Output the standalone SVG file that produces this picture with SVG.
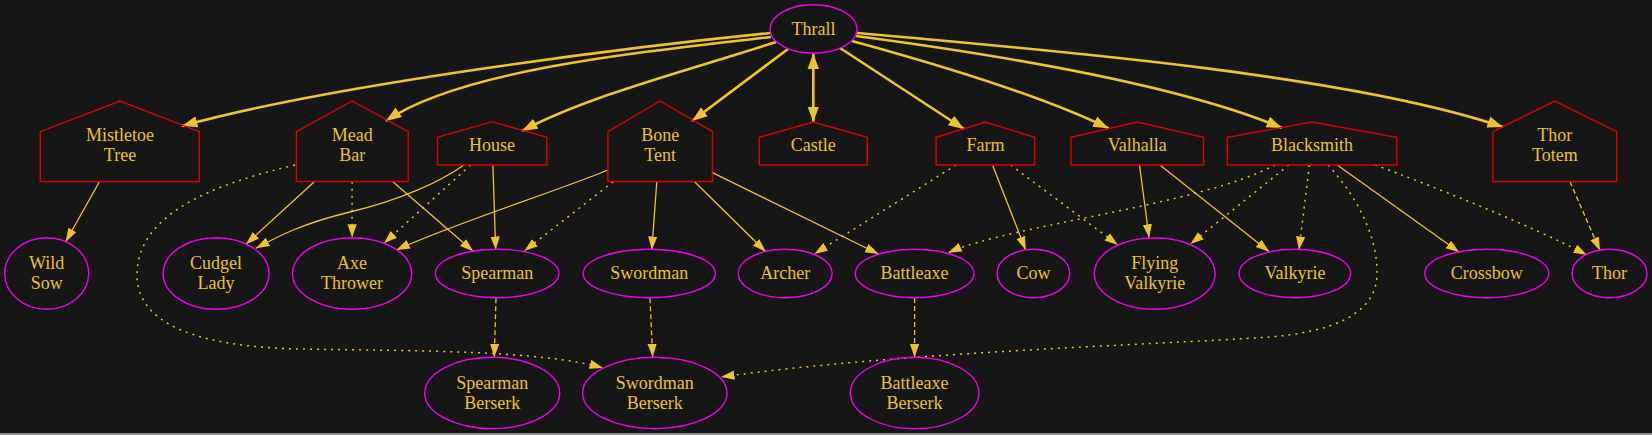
<svg xmlns="http://www.w3.org/2000/svg" width="1652" height="435" viewBox="0 0 1652 435" font-family="Liberation Serif, Times New Roman, Times, DejaVu Serif, serif">
<defs>
<style>
.bg{fill:#161616}
.house{fill:none;stroke:#dc0000;stroke-width:1.4}
.ell{fill:none;stroke:#f000f0;stroke-width:1.4}
.t{font-size:18px;fill:#ecc22c;text-anchor:middle}
.e{fill:none;stroke:#efc32b;stroke-width:1.3;marker-end:url(#a)}
.b{fill:none;stroke:#efc32b;stroke-width:2.6;marker-end:url(#ab)}
.dot{stroke-dasharray:2,5;stroke-width:1.5}
.dash{stroke-dasharray:5,3}
</style>
<marker id="a" markerUnits="userSpaceOnUse" markerWidth="15" markerHeight="11" refX="13.5" refY="5" orient="auto"><path d="M0,0.4 L13.5,5 L0,9.6 z" fill="#efc32b"/></marker>
<marker id="ab" markerUnits="userSpaceOnUse" markerWidth="17" markerHeight="13" refX="15.5" refY="6" orient="auto-start-reverse"><path d="M0,0.3 L15.5,6 L0,11.7 z" fill="#efc32b"/></marker>
</defs>
<rect class="bg" x="0" y="0" width="1652" height="433"/>
<rect x="0" y="433" width="1652" height="2" fill="#8f8f8f"/>
<g id="edges">
<path class="b" d="M770,33 C620,48 330,85 182,126"/>
<path class="b" d="M771,37 C640,52 460,70 386,121"/>
<path class="b" d="M776,42 C690,70 590,95 522,131"/>
<path class="b" d="M788,49 L692,121"/>
<path class="b" d="M813.3,53.5 L813.3,122" marker-start="url(#ab)"/>
<path class="b" d="M840,48 L964,129"/>
<path class="b" d="M852,41 C940,65 1040,95 1108.6,128.3"/>
<path class="b" d="M856,36 C1000,55 1180,85 1282,128"/>
<path class="b" d="M857,33 C1050,50 1350,75 1503,127"/>
<path class="e" d="M99.3,182 L65.7,241.7"/>
<path class="e" d="M314.3,181.7 L246,244.3"/>
<path class="e dot" d="M352.1,181.7 L352.1,237.7"/>
<path class="e" d="M392.9,181.7 L473.2,251.3"/>
<path class="e dot" d="M295,165 C210,185 137,215 137,275 C137,325 200,347 300,349 C420,351 540,350 603,368"/>
<path class="e" d="M464,165 C440,182 400,200 350,212 S275,238 256,248.3"/>
<path class="e dot" d="M470.7,165 L383.9,243.3"/>
<path class="e" d="M492.9,165 L495.7,250"/>
<path class="e" d="M608,170 C560,190 450,225 396.4,250"/>
<path class="e dot" d="M613.2,181.7 L524.3,251"/>
<path class="e" d="M656.8,181.7 L651.8,250"/>
<path class="e" d="M694.6,181.7 L765.7,251.7"/>
<path class="e" d="M712.5,172.7 L878.6,254"/>
<path class="e dot" d="M956.1,165 L814.3,254"/>
<path class="e" d="M992.5,165 L1025.7,250"/>
<path class="e dot" d="M1010.7,165 L1118,245"/>
<path class="e" d="M1139.5,165 L1149.1,237.7"/>
<path class="e" d="M1159.9,165 L1269.2,251.7"/>
<path class="e dot" d="M1275,165 C1200,205 1010,225 948.2,252.7"/>
<path class="e dot" d="M1288.9,165 L1190.4,244"/>
<path class="e dot" d="M1309.4,165 L1299,250"/>
<path class="e dot" d="M1328,165 C1360,200 1378,240 1377,275 C1376,315 1330,332 1270,337 C1150,345 900,352 721,377"/>
<path class="e" d="M1337.3,165 L1459.3,252.3"/>
<path class="e dot" d="M1375,165 C1430,185 1530,225 1587,255"/>
<path class="e dash" d="M1570,181.7 L1600,250.7"/>
<path class="e dash" d="M496,298.3 L494.3,357.3"/>
<path class="e dash" d="M650,298.3 L652.7,357.3"/>
<path class="e dash" d="M914.6,298 L914.6,357.5"/>
</g>
<g id="thrall"><ellipse class="ell" cx="813.5" cy="29" rx="43.5" ry="24.3"/><text class="t" x="813.5" y="34.5">Thrall</text></g>
<g id="mistletoe-tree"><polygon class="house" points="40.3,181.5 199.3,181.5 199.3,131.7 120,101 40.3,131.7"/><text class="t" x="120" y="141">Mistletoe</text><text class="t" x="120" y="161">Tree</text></g>
<g id="mead-bar"><polygon class="house" points="296.4,181.5 408.2,181.5 408.2,131.7 352.3,101 296.4,131.7"/><text class="t" x="352.3" y="141">Mead</text><text class="t" x="352.3" y="161">Bar</text></g>
<g id="house"><polygon class="house" points="437.5,165 546.8,165 546.8,137.3 492.1,121.7 437.5,137.3"/><text class="t" x="492.1" y="151">House</text></g>
<g id="bone-tent"><polygon class="house" points="607.9,181.5 712.5,181.5 712.5,131.7 660.2,101 607.9,131.7"/><text class="t" x="660.2" y="141">Bone</text><text class="t" x="660.2" y="161">Tent</text></g>
<g id="castle"><polygon class="house" points="759.3,165 867.3,165 867.3,137.3 813.3,122 759.3,137.3"/><text class="t" x="813.3" y="151">Castle</text></g>
<g id="farm"><polygon class="house" points="936.1,165 1034.6,165 1034.6,137.3 985.4,122 936.1,137.3"/><text class="t" x="985.4" y="151">Farm</text></g>
<g id="valhalla"><polygon class="house" points="1071,165 1203.6,165 1203.6,137.3 1137.3,122 1071,137.3"/><text class="t" x="1137.3" y="151">Valhalla</text></g>
<g id="blacksmith"><polygon class="house" points="1227.3,165 1396.8,165 1396.8,137.3 1312,122 1227.3,137.3"/><text class="t" x="1312" y="151">Blacksmith</text></g>
<g id="thor-totem"><polygon class="house" points="1493,181.5 1616.7,181.5 1616.7,131.7 1554.8,101 1493,131.7"/><text class="t" x="1554.8" y="141">Thor</text><text class="t" x="1554.8" y="161">Totem</text></g>
<g id="wild-sow"><ellipse class="ell" cx="46.7" cy="273.5" rx="42" ry="35.8"/><text class="t" x="46.7" y="269">Wild</text><text class="t" x="46.7" y="289">Sow</text></g>
<g id="cudgel-lady"><ellipse class="ell" cx="216.1" cy="273.5" rx="53" ry="35.8"/><text class="t" x="216.1" y="269">Cudgel</text><text class="t" x="216.1" y="289">Lady</text></g>
<g id="axe-thrower"><ellipse class="ell" cx="352.1" cy="273.5" rx="59.6" ry="35.8"/><text class="t" x="352.1" y="269">Axe</text><text class="t" x="352.1" y="289">Thrower</text></g>
<g id="spearman"><ellipse class="ell" cx="497.2" cy="273.5" rx="61.8" ry="24.2"/><text class="t" x="497.2" y="279">Spearman</text></g>
<g id="swordman"><ellipse class="ell" cx="649.3" cy="273.5" rx="66.1" ry="24.2"/><text class="t" x="649.3" y="279">Swordman</text></g>
<g id="archer"><ellipse class="ell" cx="785.2" cy="273.5" rx="47" ry="24.2"/><text class="t" x="785.2" y="279">Archer</text></g>
<g id="battleaxe"><ellipse class="ell" cx="914.6" cy="273.5" rx="59.3" ry="24.2"/><text class="t" x="914.6" y="279">Battleaxe</text></g>
<g id="cow"><ellipse class="ell" cx="1033.4" cy="273.5" rx="36.3" ry="24.2"/><text class="t" x="1033.4" y="279">Cow</text></g>
<g id="flying-valkyrie"><ellipse class="ell" cx="1154.7" cy="273.5" rx="60.4" ry="35.8"/><text class="t" x="1154.7" y="269">Flying</text><text class="t" x="1154.7" y="289">Valkyrie</text></g>
<g id="valkyrie"><ellipse class="ell" cx="1294.9" cy="273.5" rx="55.8" ry="24.2"/><text class="t" x="1294.9" y="279">Valkyrie</text></g>
<g id="crossbow"><ellipse class="ell" cx="1486.7" cy="273.5" rx="62" ry="24.2"/><text class="t" x="1486.7" y="279">Crossbow</text></g>
<g id="thor"><ellipse class="ell" cx="1609.5" cy="273.5" rx="37.5" ry="24.2"/><text class="t" x="1609.5" y="279">Thor</text></g>
<g id="spearman-berserk"><ellipse class="ell" cx="492.2" cy="393" rx="67.5" ry="35.7"/><text class="t" x="492.2" y="388.5">Spearman</text><text class="t" x="492.2" y="408.5">Berserk</text></g>
<g id="swordman-berserk"><ellipse class="ell" cx="654.8" cy="393" rx="72.2" ry="35.7"/><text class="t" x="654.8" y="388.5">Swordman</text><text class="t" x="654.8" y="408.5">Berserk</text></g>
<g id="battleaxe-berserk"><ellipse class="ell" cx="914.6" cy="393" rx="64.3" ry="35.7"/><text class="t" x="914.6" y="388.5">Battleaxe</text><text class="t" x="914.6" y="408.5">Berserk</text></g>
</svg>
